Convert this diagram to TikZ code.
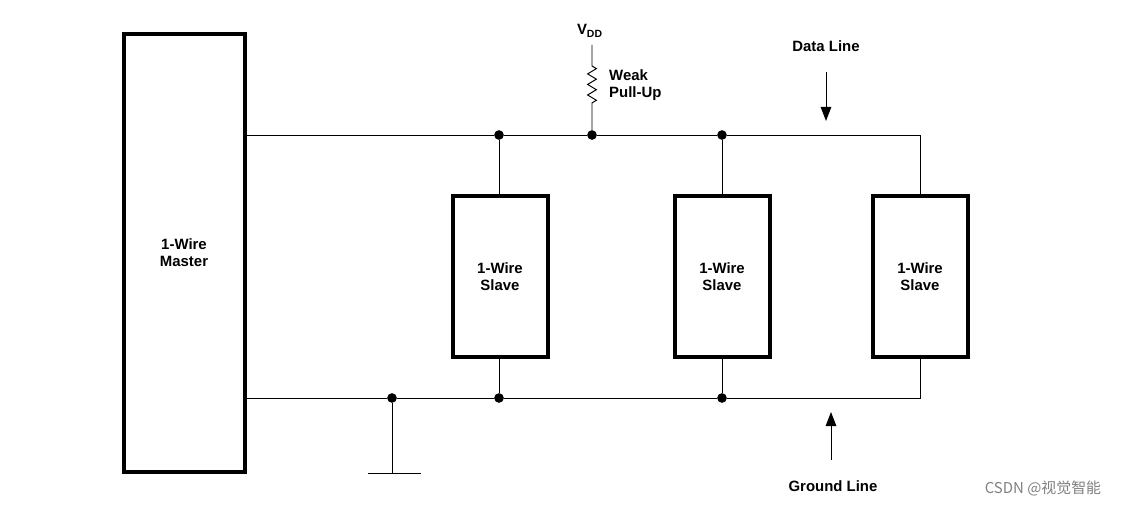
\documentclass[tikz,border=0pt]{standalone}
\usepackage{fontspec}
\setmainfont{Liberation Sans}
\newfontfamily\cjk{Noto Sans CJK SC}
\usetikzlibrary{arrows.meta, decorations.pathmorphing}
\tikzset{
  x={(0.02cm,0)}, y={(0,-0.02cm)},
  every node/.append style={font=\bfseries\fontsize{8.5}{9.5}\selectfont, align=center},
  unit/.style={draw, line width=2pt, inner sep=0pt},
  wire/.style={line width=0.55pt},
  dot/.style={circle, fill, inner sep=0pt, minimum size=5.5pt},
  >={Triangle[width=6pt,length=8pt]},
}
\begin{document}
\begin{tikzpicture}
  \useasboundingbox (0,0) rectangle (1126,506);
  % master and slaves
  \draw[unit] (124,34) rectangle (245,472);
  \node (M) at (184,253) {1-Wire\\Master};
  \draw[unit] (453,196) rectangle (548,357);
  \node (S1) at (500,277) {1-Wire\\Slave};
  \draw[unit] (675,196) rectangle (770,357);
  \node (S2) at (722,277) {1-Wire\\Slave};
  \draw[unit] (873,196) rectangle (968,357);
  \node (S3) at (920,277) {1-Wire\\Slave};

  % junctions
  \coordinate (dm) at (245,135);
  \coordinate (gm) at (245,398);
  \node[dot] (d1) at (499,135) {};
  \node[dot] (dp) at (592,135) {};
  \node[dot] (d2) at (722,135) {};
  \coordinate (d3) at (920,135);
  \node[dot] (gg) at (392,398) {};
  \node[dot] (g1) at (499,398) {};
  \node[dot] (g2) at (722,398) {};
  \coordinate (g3) at (920,398);

  % data and ground lines
  \draw[wire] (dm) -- (d1) -- (dp) -- (d2) -- (d3) -- (920,196);
  \draw[wire] (gm) -- (gg) -- (g1) -- (g2) -- (g3) -- (920,357);
  \draw[wire] (d1) -- (499,196);
  \draw[wire] (d2) -- (722,196);
  \draw[wire] (g1) -- (499,357);
  \draw[wire] (g2) -- (722,357);

  % ground symbol
  \coordinate (gnd) at (392,473);
  \draw[wire] (gg) -- (gnd);
  \draw[wire] (368,473) -- (421,473);

  % pull-up
  \node (vdd) at (590,31) {V\textsubscript{DD}};
  \coordinate (rt) at (592,45);
  \draw[wire] (rt) -- (592,66)
    decorate[decoration={zigzag, segment length=6pt, amplitude=2.5pt}] {-- (592,105)}
    -- (dp);
  \node[anchor=west, align=left] (wp) at (603,85) {Weak\\Pull-Up};

  % labels
  \node (dl) at (826,46) {Data Line};
  \coordinate (da) at (826,72);
  \draw[wire, ->] (da) -- (826,121);
  \node (gl) at (833,486) {Ground Line};
  \coordinate (ga) at (831,460);
  \draw[wire, ->] (ga) -- (831,412);

  \node[font=\cjk\fontsize{8.5}{9.5}\selectfont, text=gray] (wm) at (1043,488) {CSDN @视觉智能};
\end{tikzpicture}
\end{document}
